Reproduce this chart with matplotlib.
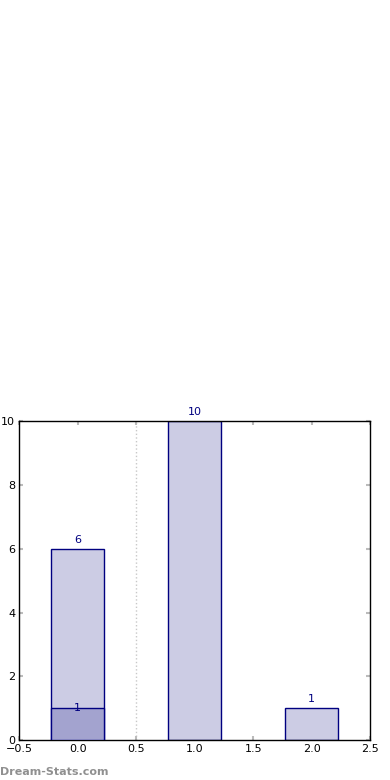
import matplotlib
matplotlib.use("Agg")
import matplotlib.pyplot as plt

positions = [0, 1, 2]
totals = [6, 10, 1]
highlight_pos = [0]
highlight_vals = [1]
divider_x = 0.5
watermark = "Dream-Stats.com"

fig = plt.figure(figsize=(3.9, 7.8), dpi=100)
ax = fig.add_axes([0.0495, 0.0509, 0.9, 0.409])

navy = "#000080"
ax.bar(positions, totals, width=0.45, color="#ccccE4", edgecolor=navy, linewidth=1, zorder=2)
ax.bar(highlight_pos, highlight_vals, width=0.45, color="#a3a3cf", edgecolor=navy, linewidth=1, zorder=3)

for x, v in zip(positions, totals):
    ax.annotate(str(v), (x, v), xytext=(0, 3), textcoords="offset points",
                ha="center", va="bottom", color=navy, fontsize=8)
for x, v in zip(highlight_pos, highlight_vals):
    ax.annotate(str(v), (x, v), xytext=(0, 0), textcoords="offset points",
                ha="center", va="center", color=navy, fontsize=8, zorder=4)

ax.axvline(divider_x, color="#c8c8c8", linestyle=":", linewidth=1, zorder=1)

ax.set_xlim(-0.5, 2.5)
ax.set_ylim(0, 10)
ax.set_xticks([-0.5, 0, 0.5, 1, 1.5, 2, 2.5])
ax.set_yticks([0, 2, 4, 6, 8, 10])
ax.tick_params(direction="in", color="#bbbbbb", labelsize=8, length=3, width=1.5,
               top=True, right=True, pad=3)
for s in ax.spines.values():
    s.set_linewidth(1)
    s.set_color("black")

fig.text(0.0, 0.004, watermark, color="#909090", fontsize=8, fontweight="bold",
         ha="left", va="bottom")

fig.savefig("out.png", dpi=100)
